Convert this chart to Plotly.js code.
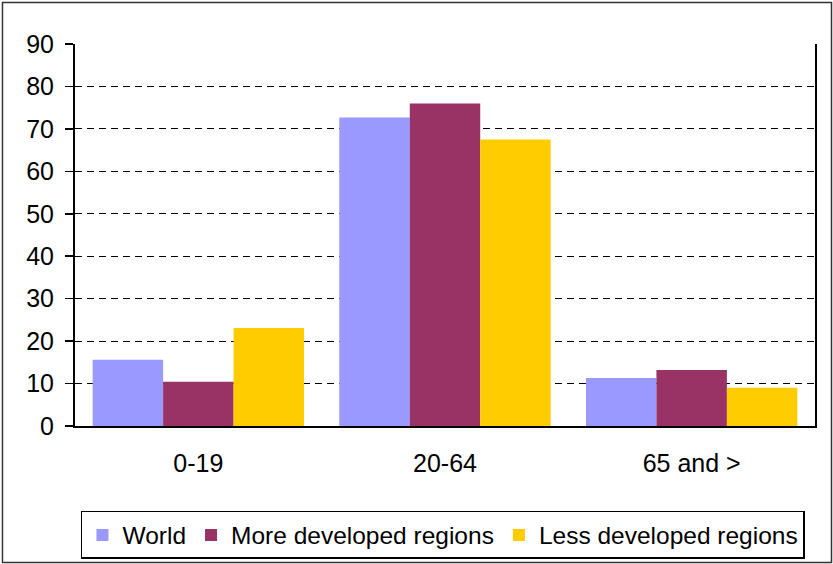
<!DOCTYPE html>
<html>
<head>
<meta charset="utf-8">
<script src="https://cdn.plot.ly/plotly-3.0.1.min.js"></script>
<style>html,body{margin:0;padding:0;background:#fff;}#chart{width:833px;height:564px;}</style>
</head>
<body>
<div id="chart"></div>
<script>
const categories = ["0-19", "20-64", "65 and >"];
const seriesNames = ["World", "More developed regions", "Less developed regions"];
const worldValues = [15.6, 72.7, 11.3];
const moreDevelopedValues = [10.4, 76.0, 13.2];
const lessDevelopedValues = [23.1, 67.5, 9.0];
const seriesColors = ["#9999FF", "#993366", "#FFCC00"];
const yTickValues = [0, 10, 20, 30, 40, 50, 60, 70, 80, 90];

const allValues = [worldValues, moreDevelopedValues, lessDevelopedValues];
const traces = allValues.map((vals, i) => ({
  type: "bar",
  x: categories,
  y: vals,
  name: seriesNames[i],
  marker: {color: seriesColors[i], line: {width: 0}},
  hoverinfo: "x+y+name"
}));

const font = {family: "Liberation Sans, Arial, sans-serif", size: 25, color: "#000"};

const layout = {
  width: 833,
  height: 564,
  margin: {l: 75, r: 18, t: 44, b: 138, pad: 0, autoexpand: false},
  paper_bgcolor: "#fff",
  plot_bgcolor: "#fff",
  font: font,
  barmode: "group",
  bargap: 0.143,
  bargroupgap: 0,
  xaxis: {
    type: "category",
    showgrid: false,
    zeroline: false,
    showline: true,
    linecolor: "#000",
    linewidth: 2,
    ticks: "outside",
    ticklen: 14,
    tickcolor: "rgba(0,0,0,0)",
    tickfont: font,
    automargin: false
  },
  yaxis: {
    range: [0, 90],
    tickvals: yTickValues,
    ticktext: yTickValues.map(String),
    showgrid: true,
    gridcolor: "#000",
    gridwidth: 1,
    griddash: "7px,5px",
    zeroline: false,
    showline: true,
    mirror: true,
    linecolor: "#000",
    linewidth: 2,
    ticks: "outside",
    ticklen: 8,
    tickwidth: 1.5,
    tickcolor: "#000",
    ticklabelstandoff: 6,
    tickfont: font,
    automargin: false
  },
  showlegend: true,
  legend: {
    orientation: "h",
    xref: "container",
    yref: "container",
    x: 0.0972,
    xanchor: "left",
    y: 0.094,
    yanchor: "top",
    bordercolor: "#000",
    borderwidth: 1.5,
    bgcolor: "#fff",
    font: {family: "Liberation Sans, Arial, sans-serif", size: 24.5, color: "#000"},
    traceorder: "normal",
    itemwidth: 30
  },
  shapes: [{
    type: "rect",
    xref: "paper", yref: "paper",
    x0: -0.098, x1: 1.0223, y0: -0.3573, y1: 1.1087,
    line: {color: "#333", width: 1.5},
    fillcolor: "rgba(0,0,0,0)",
    layer: "below"
  }]
};

Plotly.newPlot("chart", traces, layout, {displayModeBar: false, staticPlot: true});
</script>
</body>
</html>
